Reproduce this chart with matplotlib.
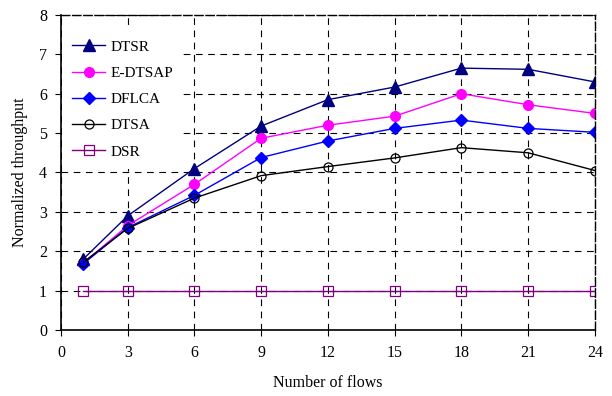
import matplotlib
matplotlib.use("Agg")
import matplotlib.pyplot as plt

x = [1, 3, 6, 9, 12, 15, 18, 21, 24]
dtsr = [1.80, 2.90, 4.10, 5.18, 5.85, 6.17, 6.65, 6.62, 6.30]
edtsap = [1.70, 2.65, 3.70, 4.87, 5.20, 5.43, 6.00, 5.72, 5.50]
dflca = [1.68, 2.60, 3.42, 4.38, 4.80, 5.12, 5.33, 5.12, 5.02]
dtsa = [1.72, 2.58, 3.35, 3.92, 4.15, 4.37, 4.63, 4.50, 4.05]
dsr = [1, 1, 1, 1, 1, 1, 1, 1, 1]
xticks = [0, 3, 6, 9, 12, 15, 18, 21, 24]
yticks = [0, 1, 2, 3, 4, 5, 6, 7, 8]

plt.rcParams['font.family'] = ['Liberation Serif', 'DejaVu Serif']

fig = plt.figure(figsize=(6.12, 3.96), dpi=100)
ax = fig.add_axes([0.0997, 0.1667, 0.8723, 0.7955])

ax.plot(x, dtsr, color='#000080', marker='^', markersize=8, lw=1.0, label='DTSR')
ax.plot(x, edtsap, color='#FF00FF', marker='o', markersize=7, lw=1.0, label='E-DTSAP')
ax.plot(x, dflca, color='#0000FF', marker='D', markersize=6, lw=1.0, label='DFLCA')
ax.plot(x, dtsa, color='black', marker='o', markersize=6.5, markerfacecolor='none',
        markeredgewidth=0.9, lw=1.0, label='DTSA')
ax.plot(x, dsr, color='#800080', marker='s', markersize=6.5, markerfacecolor='none',
        markeredgewidth=0.9, lw=1.0, label='DSR')

ax.set_xlim(0, 24)
ax.set_ylim(0, 8)
ax.set_xticks(xticks)
ax.set_yticks(yticks)
ax.grid(True, color='black', linestyle=(0, (6, 5)), linewidth=0.8)
for s in ['top', 'right']:
    ax.spines[s].set_linestyle((0, (6, 2)))
    ax.spines[s].set_linewidth(1.0)
for s in ['left', 'bottom']:
    ax.spines[s].set_linewidth(1.2)
ax.tick_params(axis='both', labelsize=11.5, length=4, width=0.8, direction='out')
ax.tick_params(axis='x', pad=7)
ax.tick_params(axis='y', pad=6)

ax.set_xlabel('Number of flows', fontsize=11.5, labelpad=10)
ax.set_ylabel('Normalized throughput', fontsize=11.5, labelpad=8)

leg = ax.legend(loc='upper left', frameon=True, fontsize=11, handlelength=2.16,
                handletextpad=0.33, labelspacing=0.82, borderpad=0.65,
                borderaxespad=0.0, bbox_to_anchor=(0.002, 0.952),
                fancybox=False, framealpha=1.0, facecolor='white', edgecolor='none')

fig.savefig('out.png', dpi=100)
